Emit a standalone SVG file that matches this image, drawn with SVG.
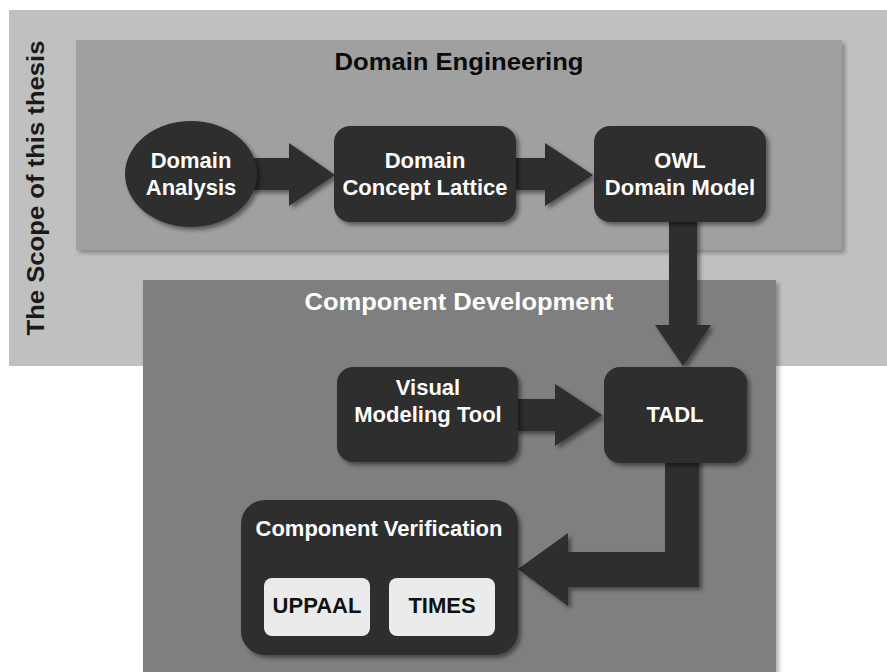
<svg xmlns="http://www.w3.org/2000/svg" width="887" height="672" viewBox="0 0 887 672">
<defs>
<filter id="sh" x="-20%" y="-20%" width="140%" height="140%">
<feDropShadow dx="3" dy="3" stdDeviation="2" flood-color="#000" flood-opacity="0.45"/>
</filter>
<filter id="shs" x="-10%" y="-10%" width="120%" height="120%">
<feDropShadow dx="3" dy="3" stdDeviation="2" flood-color="#000" flood-opacity="0.3"/>
</filter>
</defs>
<style>
.node{fill:#2e2e2e;filter:url(#sh)}
.arrow{fill:#2e2e2e;filter:url(#sh)}
.t{font-family:"Liberation Sans",Arial,sans-serif;font-weight:bold;font-size:22px;fill:#ffffff;text-anchor:middle}
.title{font-family:"Liberation Sans",Arial,sans-serif;font-weight:bold;font-size:24px;text-anchor:middle}
.light{fill:#ebebeb}
.dark{fill:#111111}
</style>
<rect width="887" height="672" fill="#ffffff"/>
<g id="scope">
<rect x="9" y="10" width="878" height="356" fill="#c0c0c0"/>
<text class="title" fill="#1a1a1a" transform="translate(44,188) rotate(-90)" textLength="295" lengthAdjust="spacingAndGlyphs">The Scope of this thesis</text>
</g>
<g id="domain-engineering">
<rect x="76" y="40" width="766" height="210" fill="#a0a0a0" filter="url(#shs)"/>
<text class="title" fill="#0a0a0a" x="459" y="70" textLength="249" lengthAdjust="spacingAndGlyphs">Domain Engineering</text>
</g>
<g id="component-development">
<rect x="143" y="280" width="633" height="400" fill="#7f7f7f" filter="url(#shs)"/>
<text class="title" fill="#ffffff" x="459" y="310" textLength="309" lengthAdjust="spacingAndGlyphs">Component Development</text>
</g>
<g id="connectors">
<polygon class="arrow" points="250,158 289,158 289,143 335,175 289,206 289,190 250,190"/>
<polygon class="arrow" points="512,158 545,158 545,143 593,175 545,206 545,190 512,190"/>
<polygon class="arrow" points="669,218 697,218 697,325 711,325 683,366 655,325 669,325"/>
<polygon class="arrow" points="514,399 555,399 555,384 602,415 555,446 555,431 514,431"/>
<polygon class="arrow" points="665,459 699,459 699,587 568,587 568,606 518,569 568,533 568,552 665,552"/>
</g>
<g id="domain-analysis">
<ellipse class="node" cx="191" cy="174" rx="66" ry="53"/>
<text class="t" x="191" y="168">Domain</text>
<text class="t" x="191" y="195">Analysis</text>
</g>
<g id="domain-concept-lattice">
<rect class="node" x="334" y="126" width="182" height="96" rx="16"/>
<text class="t" x="425" y="168">Domain</text>
<text class="t" x="425" y="195">Concept Lattice</text>
</g>
<g id="owl-domain-model">
<rect class="node" x="594" y="126" width="172" height="96" rx="16"/>
<text class="t" x="680" y="168">OWL</text>
<text class="t" x="680" y="195">Domain Model</text>
</g>
<g id="visual-modeling-tool">
<rect class="node" x="337" y="367" width="181" height="95" rx="16"/>
<text class="t" x="428" y="395">Visual</text>
<text class="t" x="428" y="422">Modeling Tool</text>
</g>
<g id="tadl">
<rect class="node" x="604" y="367" width="143" height="96" rx="16"/>
<text class="t" x="675" y="422">TADL</text>
</g>
<g id="component-verification">
<rect class="node" x="241" y="500" width="277" height="155" rx="24"/>
<text class="t" x="379" y="536">Component Verification</text>
</g>
<g id="uppaal">
<rect class="light" x="264" y="578" width="106" height="58" rx="8"/>
<text class="t dark" x="317" y="613">UPPAAL</text>
</g>
<g id="times">
<rect class="light" x="389" y="578" width="106" height="58" rx="8"/>
<text class="t dark" x="442" y="613">TIMES</text>
</g>
</svg>
